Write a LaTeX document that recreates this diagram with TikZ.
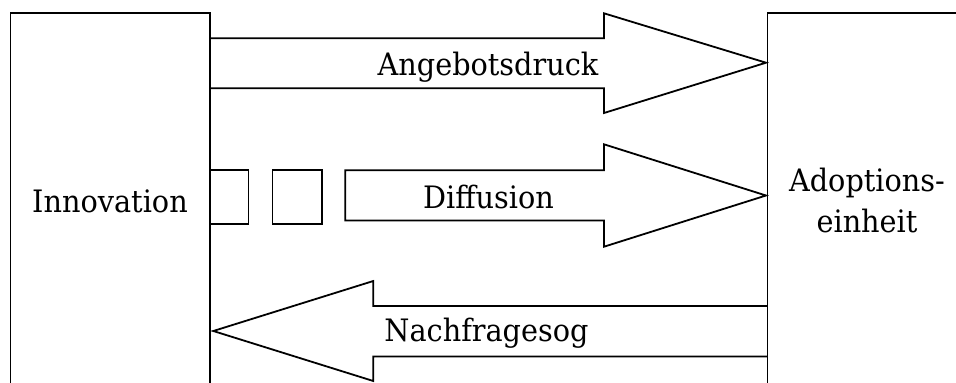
\documentclass[tikz,border=0pt]{standalone}
\usepackage{fontspec}
\setmainfont[FakeStretch=0.93]{DejaVu Serif}
\begin{document}
\begin{tikzpicture}[x=1bp,y=-1bp,
  outline/.style={draw=black,line width=1.8bp,line join=miter},
  label/.style={font=\fontsize{31}{40.7}\selectfont,inner sep=0pt,anchor=base,align=center}]
\useasboundingbox (0,0) rectangle (956,382);
\clip (0,0) rectangle (956,382);
\fill[white] (0,0) rectangle (956,382);

% the two actors, cut off at the lower (and right) edge
\coordinate (innovNW) at (10.5,13);
\coordinate (innovNE) at (210,13);
\coordinate (innovSW) at (10.5,420);
\coordinate (innovSE) at (210,420);
\draw[outline] (innovSW) -- (innovNW) -- (innovNE) -- (innovSE);
\coordinate (adoptSW) at (767.5,420);
\coordinate (adoptNW) at (767.5,13);
\coordinate (adoptNE) at (980,13);
\draw[outline] (adoptSW) -- (adoptNW) -- (adoptNE);

\node[label] (innov) at (110,212) {Innovation};
\node[label] (adopt) at (867,232) {Adoptions-\\einheit};

% push arrow: innovation -> adoption unit
\draw[outline] (210,38.3) -- (604,38.3) -- (604,13.3) -- (766,62.7)
  -- (604,113) -- (604,88.3) -- (210,88.3);
\node[label] (push) at (488,75) {Angebotsdruck};

% diffusion: two blocks then the arrow
\draw[outline] (210,170.3) -- (248.5,170.3) -- (248.5,223.6) -- (210,223.6);
\draw[outline] (272.5,170.3) rectangle (322.3,223.6);
\draw[outline] (345.3,170.3) -- (604,170.3) -- (604,144.3) -- (766,195.5)
  -- (604,246.7) -- (604,220.5) -- (345.3,220.5) -- cycle;
\node[label] (diff) at (488.5,208) {Diffusion};

% pull arrow: adoption unit -> innovation
\draw[outline] (767.5,306) -- (373.3,306) -- (373.3,281) -- (213.3,331)
  -- (373.3,381) -- (373.3,356.5) -- (767.5,356.5);
\node[label] (pull) at (486.5,341) {Nachfragesog};
\end{tikzpicture}
\end{document}
